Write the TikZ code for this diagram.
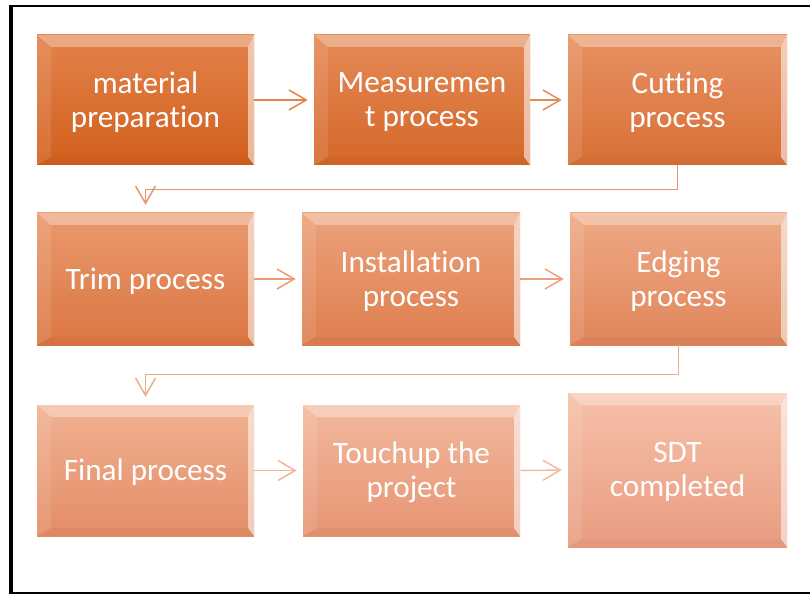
\documentclass[tikz,border=0pt]{standalone}
\usepackage{fontspec}
\setmainfont{Carlito}[RawFeature={-liga;-clig;-dlig;-calt}]
\usetikzlibrary{arrows.meta,fit}
\definecolor{dkTop}{HTML}{E3824B}
\definecolor{dkBot}{HTML}{D2601D}
\definecolor{ltTop}{HTML}{F6C1A9}
\definecolor{ltBot}{HTML}{E99C80}
\tikzset{
  boxtext/.style={text=white, font=\fontsize{23.4}{25.5}\selectfont, align=center, inner sep=0pt},
  boxframe/.style={inner sep=0pt},
  flowarrow/.style={line width=1.1pt, -{Straight Barb[length=13pt,width=15pt]}, shorten >=4.5pt},
  elbowarrow/.style={flowarrow, shorten >=6pt},
  frameline/.style={black, line width=2.2pt},
}
% name, x1, y1, x2, y2, percent of dark colour, text
\newcommand\procbox[7]{%
  \colorlet{bt}{dkTop!#6!ltTop}\colorlet{bb}{dkBot!#6!ltBot}%
  \shade[top color=bt,bottom color=bb] (#2,#3) rectangle (#4,#5);
  \fill[white,opacity=0.32] (#2,#3) -- (#4,#3) -- ({#4-6},{#3+12}) -- ({#2+14},{#3+12}) -- cycle;
  \fill[white,opacity=0.10] (#2,#3) -- ({#2+14},{#3+12}) -- ({#2+14},{#5-8}) -- (#2,#5) -- cycle;
  \fill[white,opacity=0.55] (#4,#3) -- (#4,#5) -- ({#4-6},{#5-8}) -- ({#4-6},{#3+12}) -- cycle;
  \fill[black,opacity=0.03] (#2,#5) -- ({#2+14},{#5-8}) -- ({#4-6},{#5-8}) -- (#4,#5) -- cycle;
  \coordinate (#1-nw) at (#2,#3);
  \coordinate (#1-se) at (#4,#5);
  \node[boxframe, fit=(#1-nw)(#1-se)] (#1) {};
  \node[boxtext] (#1-t) at ([yshift=-1.5pt]#1.center) {#7};
}
\begin{document}
\begin{tikzpicture}[x=0.75pt,y=-0.75pt]
\useasboundingbox (0,0) rectangle (810,595);
\fill[white] (0,0) rectangle (810,595);
% frame
\draw[frameline] (11,6) -- (810,6);
\draw[frameline, line width=3pt] (11,5) -- (11,594);
\draw[frameline] (11,593) -- (810,593);
% boxes
\procbox{b1}{37}{35}{254}{165}{100}{material\\preparation}
\procbox{b2}{314}{35}{530}{165}{88}{Measuremen\\t process}
\procbox{b3}{568}{35}{787}{165}{75}{Cutting\\process}
\procbox{b4}{37}{213}{254}{345}{63}{Trim process}
\procbox{b5}{302}{213}{520}{345}{50}{Installation\\process}
\procbox{b6}{570}{213}{787}{345}{38}{Edging\\process}
\procbox{b7}{37}{405}{254}{536}{25}{Final process}
\procbox{b8}{303}{405}{520}{536}{13}{Touchup the\\project}
\procbox{b9}{568}{393}{787}{547}{0}{SDT\\completed}
% connectors
\draw[flowarrow, color=dkTop!100!ltTop] (b1.east) -- (b2.west);
\draw[flowarrow, color=dkTop!88!ltTop] (b2.east) -- (b3.west);
\draw[elbowarrow, color=dkTop!70!ltTop] (b3.south) -- ++(0,24) -| (b4.north);
\draw[flowarrow, color=dkTop!60!ltTop] (b4.east) -- (b5.west);
\draw[flowarrow, color=dkTop!50!ltTop] (b5.east) -- (b6.west);
\draw[elbowarrow, color=dkTop!35!ltTop] (b6.south) -- ++(0,29) -| (b7.north);
\draw[flowarrow, color=dkTop!20!ltTop] (b7.east) -- (b8.west);
\draw[flowarrow, color=dkTop!10!ltTop] (b8.east) -- (b9.west);
\end{tikzpicture}
\end{document}
